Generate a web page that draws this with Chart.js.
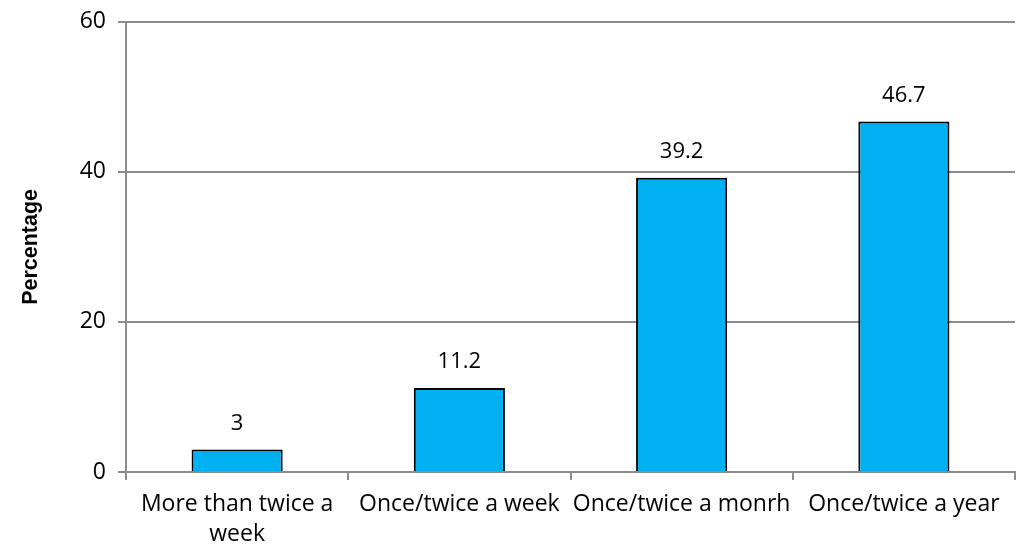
<!DOCTYPE html>
<html>
<head>
<meta charset="utf-8">
<script src="https://cdn.jsdelivr.net/npm/chart.js@4/dist/chart.umd.min.js"></script>
<style>
	html, body { margin: 0; padding: 0; background: #fff; }
	#wrap { width: 1020px; height: 550px; }
</style>
</head>
<body>
<div id="wrap"><canvas id="chart"></canvas></div>
<script>
// Data
const categories = [
	["More than twice a", "week"],
	"Once/twice a week",
	"Once/twice a monrh",
	"Once/twice a year",
];
const percentages = [3, 11.2, 39.2, 46.7];
const yTicks = [0, 20, 40, 60];

const FONT = "'Open Sans', sans-serif";
const gridColor = "#8c8c8c";

// Draw value labels above each bar
const valueLabels = {
	id: "valueLabels",
	afterDatasetsDraw(chart) {
		const ctx = chart.ctx;
		const meta = chart.getDatasetMeta(0);
		ctx.save();
		ctx.fillStyle = "#000";
		ctx.font = "22px " + FONT;
		ctx.textAlign = "center";
		ctx.textBaseline = "middle";
		meta.data.forEach((bar, i) => {
			ctx.fillText(String(percentages[i]), bar.x, bar.y - 26);
		});
		ctx.restore();
	},
};

const ctx = document.getElementById("chart").getContext("2d");
new Chart(ctx, {
	type: "bar",
	data: {
		labels: categories,
		datasets: [
			{
				data: percentages,
				backgroundColor: "#00b0f0",
				borderColor: "#000",
				borderWidth: 2,
				borderSkipped: "bottom",
				categoryPercentage: 1,
				barPercentage: 0.41,
			},
		],
	},
	options: {
		responsive: true,
		maintainAspectRatio: false,
		animation: false,
		devicePixelRatio: 1,
		layout: { padding: { top: 10, right: 5, left: 0, bottom: 0 } },
		plugins: {
			legend: { display: false },
			tooltip: { enabled: false },
		},
		scales: {
			x: {
				grid: {
					offset: true,
					drawOnChartArea: false,
					color: gridColor,
					lineWidth: 2,
					tickLength: 8,
				},
				border: { color: gridColor, width: 2 },
				ticks: {
					color: "#000",
					font: { size: 23, family: FONT, lineHeight: 1.3 },
					maxRotation: 0,
					autoSkip: false,
					padding: 10,
				},
				afterFit(scale) {
					scale.height = 78;
				},
			},
			y: {
				min: 0,
				max: 60,
				afterBuildTicks(scale) {
					scale.ticks = yTicks.map((v) => ({ value: v }));
				},
				grid: {
					color: gridColor,
					lineWidth: 2,
					tickLength: 8,
				},
				border: { color: gridColor, width: 2 },
				ticks: {
					color: "#000",
					font: { size: 23, family: FONT, lineHeight: 0.85 },
					padding: 12,
				},
				title: {
					display: true,
					text: "Percentage",
					color: "#000",
					font: { size: 21.5, weight: "bold", family: "'Liberation Sans', Arial, sans-serif" },
					padding: { top: 18, bottom: 0 },
				},
				afterFit(scale) {
					scale.width = 126;
				},
			},
		},
	},
	plugins: [valueLabels],
});
</script>
</body>
</html>
